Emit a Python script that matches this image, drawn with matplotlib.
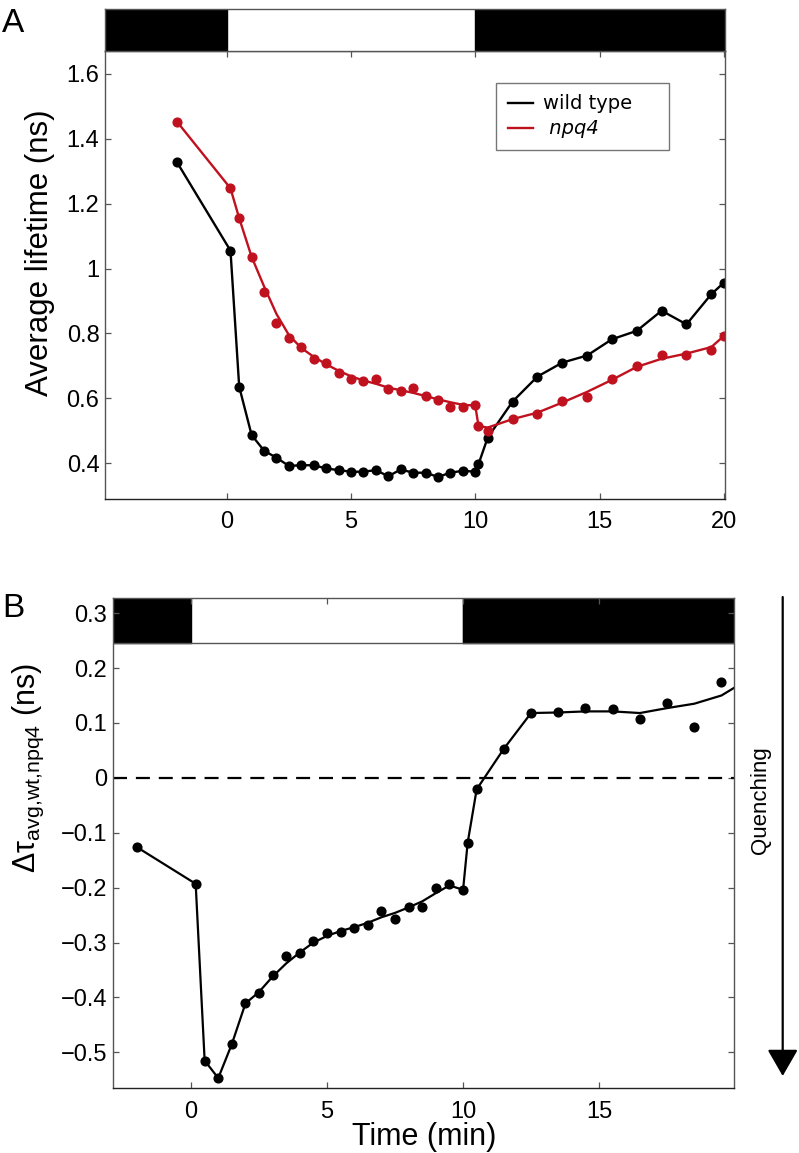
import matplotlib
matplotlib.use('Agg')
import matplotlib.pyplot as plt
from matplotlib.patches import Rectangle, FancyArrowPatch
from matplotlib.lines import Line2D

plt.rcParams['font.family'] = ['Liberation Sans', 'DejaVu Sans']
plt.rcParams['mathtext.fontset'] = 'custom'
plt.rcParams['mathtext.rm'] = 'Liberation Sans'
plt.rcParams['mathtext.it'] = 'Liberation Sans:italic'

# light regime: dark, light from 0 to 10 min, dark again
light_on = 0
light_off = 10

# panel A: average lifetime (ns)
time_a = [-2, 0.15, 0.5, 1, 1.5, 2, 2.5, 3, 3.5, 4, 4.5, 5, 5.5, 6, 6.5, 7, 7.5, 8, 8.5,
          9, 9.5, 10, 10.13, 10.5, 11.5, 12.5, 13.5, 14.5, 15.5, 16.5, 17.5, 18.5, 19.5, 20]
wt = [1.327, 1.055, 0.636, 0.487, 0.439, 0.417, 0.392, 0.394, 0.394, 0.384, 0.379, 0.374,
      0.374, 0.379, 0.360, 0.381, 0.371, 0.371, 0.358, 0.371, 0.377, 0.374, 0.397, 0.479,
      0.590, 0.667, 0.710, 0.732, 0.782, 0.808, 0.870, 0.828, 0.921, 0.956]
npq4 = [1.452, 1.247, 1.155, 1.036, 0.927, 0.831, 0.787, 0.759, 0.720, 0.708, 0.679, 0.659,
        0.654, 0.659, 0.629, 0.623, 0.631, 0.608, 0.595, 0.572, 0.574, 0.579, 0.515, 0.500,
        0.535, 0.551, 0.592, 0.605, 0.659, 0.700, 0.733, 0.733, 0.749, 0.792]
npq4_fit = [1.452, 1.247, 1.155, 1.036, 0.945, 0.860, 0.795, 0.755, 0.728, 0.705, 0.685,
            0.668, 0.655, 0.645, 0.633, 0.625, 0.617, 0.607, 0.597, 0.588, 0.580, 0.578,
            0.515, 0.510, 0.536, 0.556, 0.587, 0.620, 0.657, 0.697, 0.722, 0.738, 0.758, 0.792]
ticks_a_y = [0.4, 0.6, 0.8, 1.0, 1.2, 1.4, 1.6]
ticklabels_a_y = ['0.4', '0.6', '0.8', '1', '1.2', '1.4', '1.6']

# panel B: difference wt - npq4 (ns)
time_b = [-2, 0.17, 0.5, 1, 1.5, 2, 2.5, 3, 3.5, 4, 4.5, 5, 5.5, 6, 6.5, 7, 7.5, 8, 8.5,
          9, 9.5, 10, 10.17, 10.5, 11.5, 12.5, 13.5, 14.5, 15.5, 16.5, 17.5, 18.5, 19.5]
diff = [-0.126, -0.193, -0.515, -0.547, -0.485, -0.411, -0.392, -0.360, -0.324, -0.320,
        -0.298, -0.283, -0.280, -0.274, -0.268, -0.242, -0.257, -0.235, -0.235, -0.200,
        -0.193, -0.204, -0.118, -0.021, 0.053, 0.118, 0.119, 0.127, 0.125, 0.108, 0.136,
        0.092, 0.174]
time_b_fit = time_b + [20]
diff_fit = [-0.126, -0.193, -0.515, -0.547, -0.485, -0.411, -0.390, -0.362, -0.338, -0.318,
            -0.300, -0.288, -0.279, -0.272, -0.264, -0.254, -0.246, -0.236, -0.225, -0.210,
            -0.196, -0.204, -0.118, -0.021, 0.053, 0.118, 0.119, 0.121, 0.121, 0.118, 0.127,
            0.135, 0.150, 0.165]
ticks_b_y = [-0.5, -0.4, -0.3, -0.2, -0.1, 0, 0.1, 0.2, 0.3]
ticklabels_b_y = ['\u22120.5', '\u22120.4', '\u22120.3', '\u22120.2', '\u22120.1', '0', '0.1', '0.2', '0.3']

red = '#c0111f'
spine_col = '#555555'
W, H = 799, 1153

fig = plt.figure(figsize=(W / 100, H / 100), dpi=100)


def frac(l, t, r, b):
    return [l / W, 1 - b / H, (r - l) / W, (b - t) / H]


def style(ax):
    for s in ax.spines.values():
        s.set_color(spine_col)
        s.set_linewidth(1.0)
    ax.spines['bottom'].set_color('#222222')
    ax.tick_params(direction='in', length=4, width=0.9, color=spine_col,
                   labelsize=17, top=True, right=True)
    ax.tick_params(axis='x', pad=9)
    ax.tick_params(axis='y', pad=4)


# ---------- panel A ----------
xlim_a = (-4.9, 20.05)
ax_a = fig.add_axes(frac(105, 51, 725, 499))
ax_a.plot(time_a, wt, color='black', lw=1.7, marker='o', ms=6.3)
ax_a.plot(time_a, npq4_fit, color=red, lw=1.7)
ax_a.plot(time_a, npq4, ls='none', marker='o', ms=6.3, color=red)
ax_a.set_xlim(*xlim_a)
ax_a.set_ylim(0.29, 1.67)
ax_a.set_xticks([0, 5, 10, 15, 20])
ax_a.set_yticks(ticks_a_y)
ax_a.set_yticklabels(ticklabels_a_y)
style(ax_a)

handles = [Line2D([], [], color='black', lw=1.7), Line2D([], [], color=red, lw=1.7)]
leg = ax_a.legend(handles, ['wild type    ', ' npq4'], loc='upper left',
                  bbox_to_anchor=(0.631, 0.929), borderaxespad=0,
                  prop={'family': 'DejaVu Sans', 'size': 14}, frameon=True, fancybox=False,
                  handlelength=1.3, handletextpad=0.5, labelspacing=0.3, borderpad=0.6)
leg.get_frame().set_edgecolor(spine_col)
leg.get_frame().set_linewidth(1.0)
leg.get_texts()[1].set_fontstyle('italic')

# light bar above A
ax_bar = fig.add_axes(frac(105, 9, 725, 51))
ax_bar.set_xlim(*xlim_a)
ax_bar.set_ylim(0, 1)
ax_bar.add_patch(Rectangle((xlim_a[0], 0), light_on - xlim_a[0], 1, color='black'))
ax_bar.add_patch(Rectangle((light_off, 0), xlim_a[1] - light_off, 1, color='black'))
ax_bar.set_xticks([])
ax_bar.set_yticks([])
for s in ax_bar.spines.values():
    s.set_color(spine_col)
    s.set_linewidth(1.0)

fig.text(40 / W, 1 - 253 / H, 'Average lifetime (ns)', rotation=90, fontsize=22.5,
         ha='center', va='center')
fig.text(2 / W, 1 - 8 / H, 'A', fontsize=24, ha='left', va='top')

# ---------- panel B ----------
xlim_b = (-2.88, 19.96)
ylim_b = (-0.565, 0.327)
bar_bottom = 0.246
ax_b = fig.add_axes(frac(112.7, 598.3, 734, 1088))
ax_b.axhline(0, color='black', lw=1.6, dashes=(6.3, 4.0))
ax_b.plot(time_b_fit, diff_fit, color='black', lw=1.6)
ax_b.plot(time_b, diff, ls='none', marker='o', ms=6.3, color='black')
ax_b.add_patch(Rectangle((xlim_b[0], bar_bottom), light_on - xlim_b[0], ylim_b[1] - bar_bottom,
                         color='black', zorder=1.5))
ax_b.add_patch(Rectangle((light_off, bar_bottom), xlim_b[1] - light_off, ylim_b[1] - bar_bottom,
                         color='black', zorder=1.5))
ax_b.axhline(bar_bottom, color=spine_col, lw=1.0, zorder=1.6)
ax_b.axvline(light_off, ymin=(bar_bottom - ylim_b[0]) / (ylim_b[1] - ylim_b[0]),
             color=spine_col, lw=1.0, zorder=1.4)
ax_b.set_xlim(*xlim_b)
ax_b.set_ylim(*ylim_b)
ax_b.set_xticks([0, 5, 10, 15])
ax_b.set_yticks(ticks_b_y)
ax_b.set_yticklabels(ticklabels_b_y)
style(ax_b)

fig.text(28 / W, 1 - 768 / H, 'Δτ$_{\\mathrm{avg{,}wt{,}npq4}}$ (ns)', rotation=90, fontsize=22,
         ha='center', va='center')
fig.text(424 / W, 1 - 1137 / H, 'Time (min)', fontsize=22, ha='center', va='center')
fig.text(2 / W, 1 - 593 / H, 'B', fontsize=24, ha='left', va='top')

# quenching arrow
arrow = FancyArrowPatch((782.7 / W, 1 - 597 / H), (782.7 / W, 1 - 1076 / H),
                        transform=fig.transFigure, arrowstyle='-|>,head_length=1.65,head_width=0.95',
                        mutation_scale=10, lw=1.6, color='black', shrinkA=0, shrinkB=0)
fig.add_artist(arrow)
fig.text(761 / W, 1 - 800 / H, 'Quenching', rotation=90, fontsize=16,
         ha='center', va='center')

fig.savefig('out.png', dpi=100)
